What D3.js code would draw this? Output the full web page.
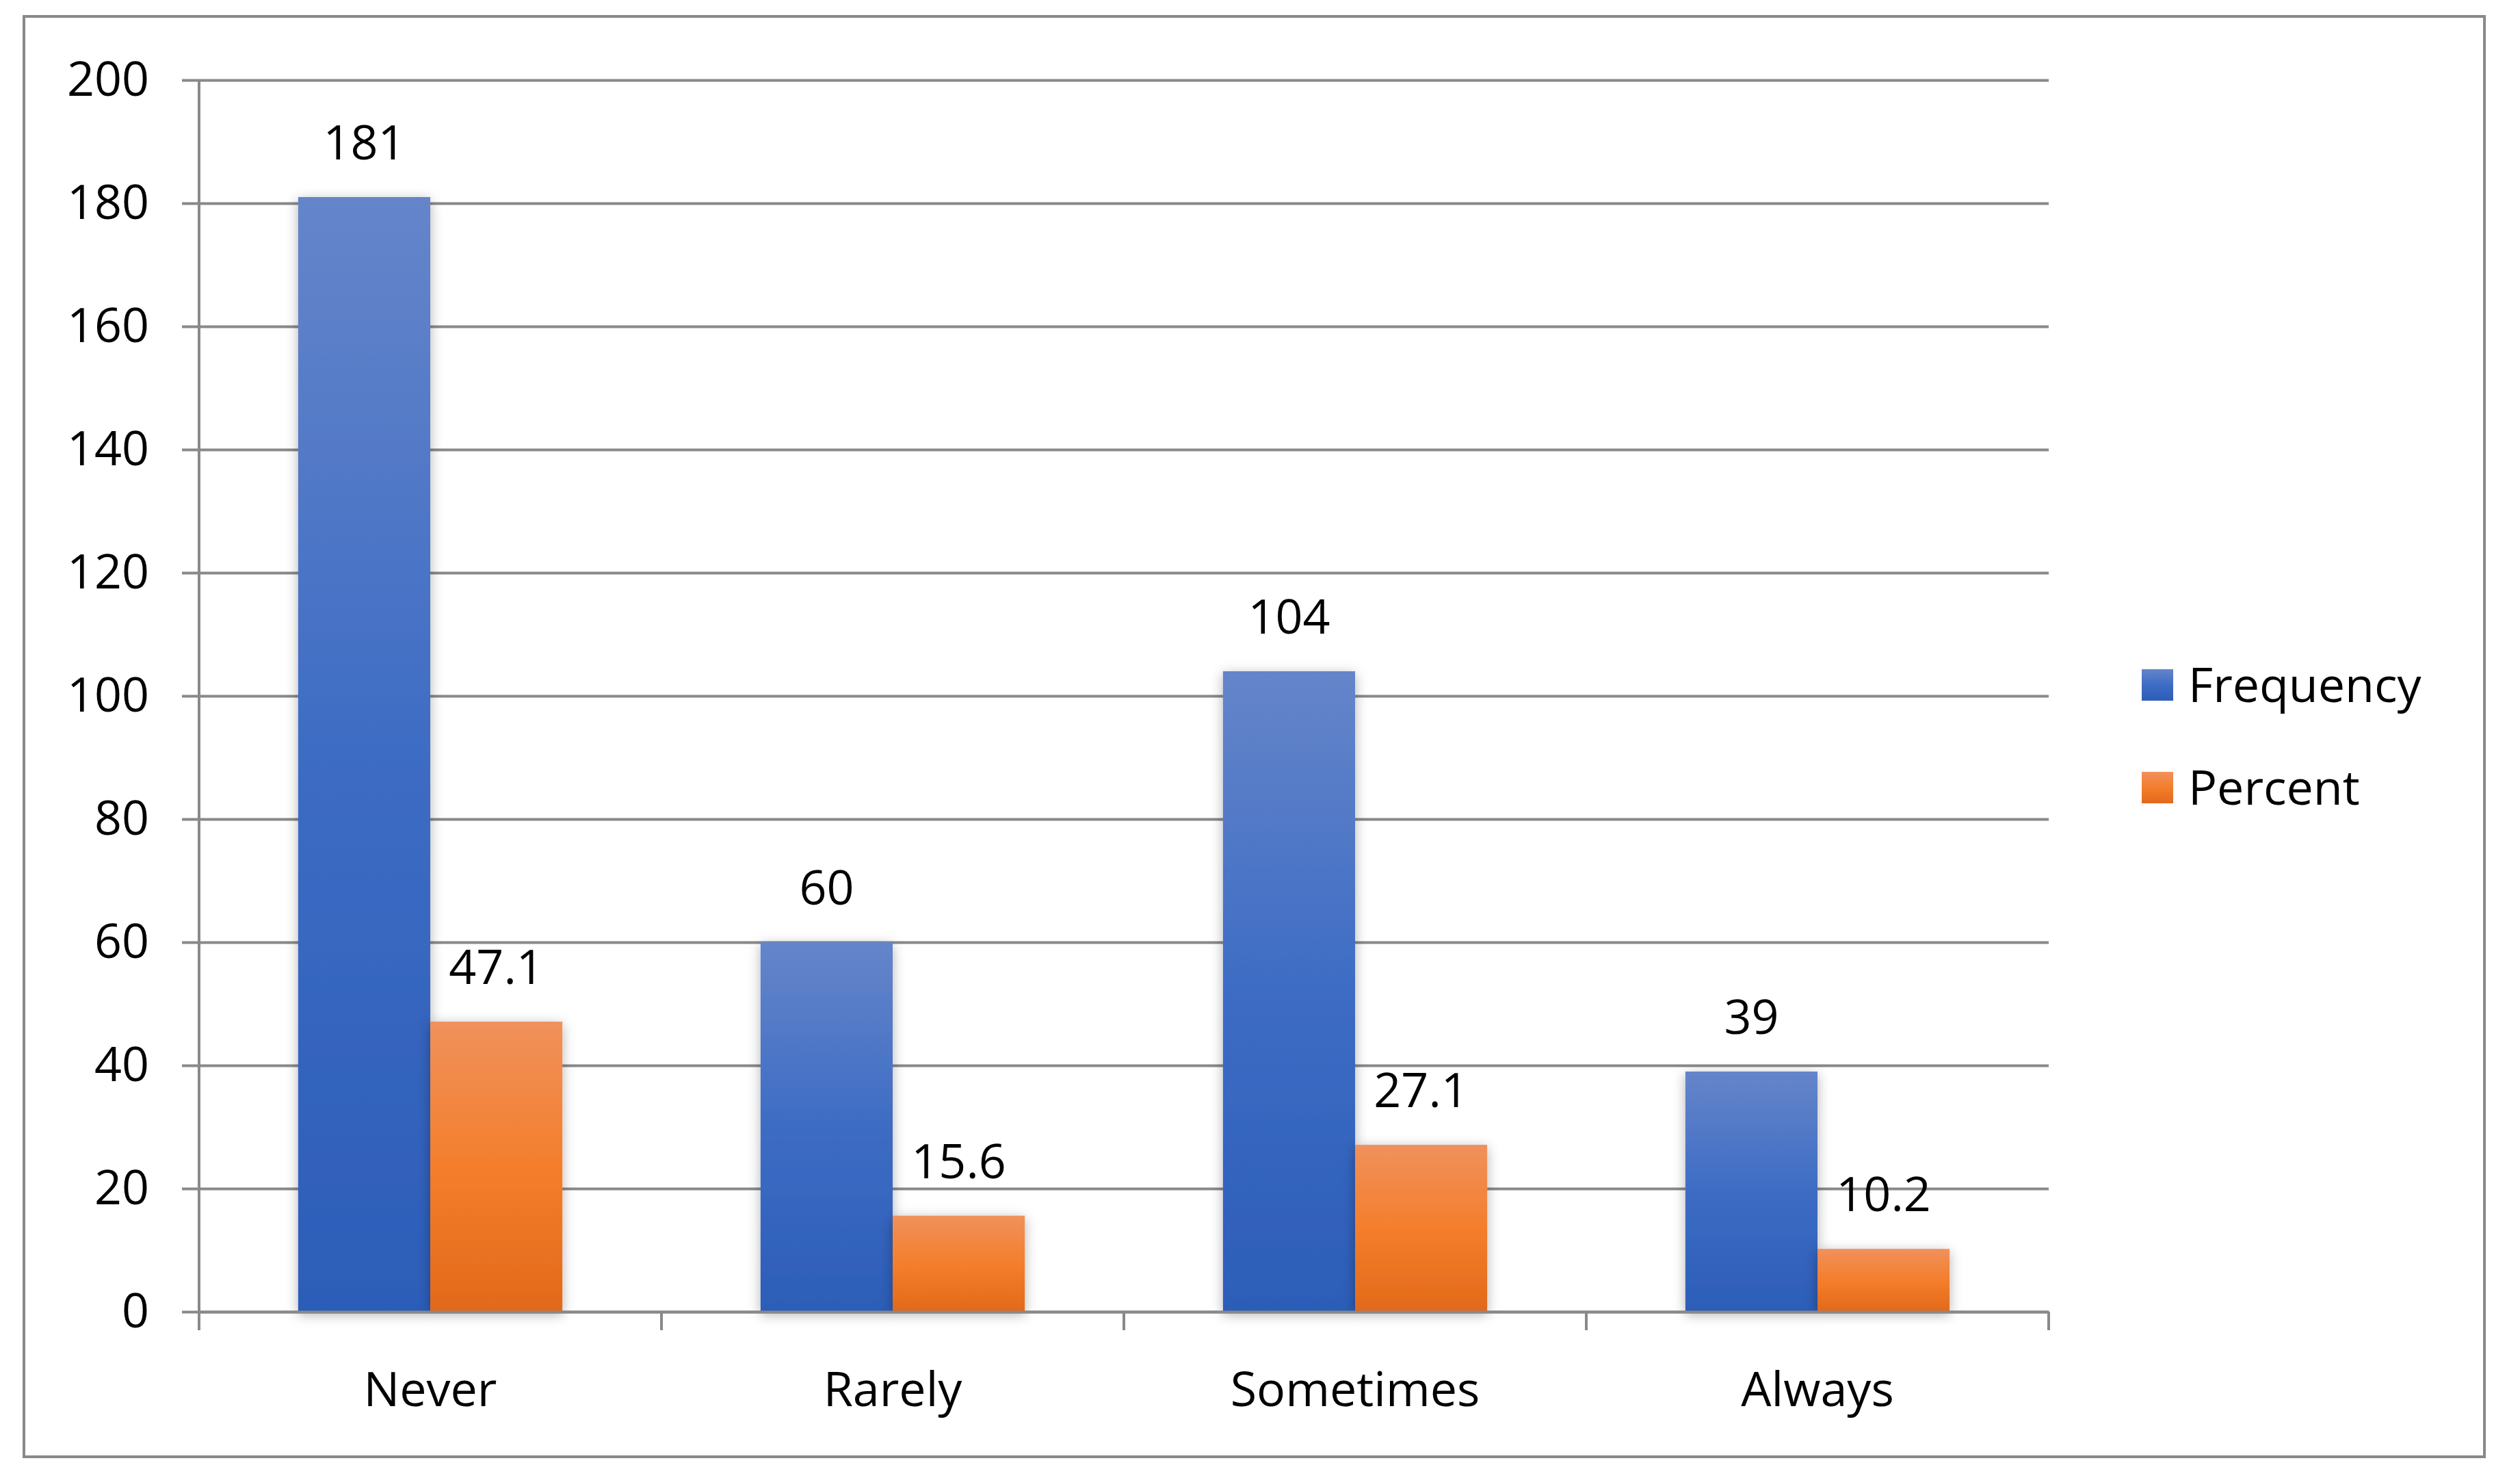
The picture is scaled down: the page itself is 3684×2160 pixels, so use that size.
<!DOCTYPE html>
<html>
<head>
<meta charset="utf-8">
<script src="https://cdn.jsdelivr.net/npm/d3@7"></script>
<style>
  body { margin: 0; background: #fff; }
  text { font-family: "Open Sans", sans-serif; fill: #000; }
</style>
</head>
<body>
<div id="wrapper"></div>
<script>
const categories = ["Never", "Rarely", "Sometimes", "Always"]
const seriesNames = ["Frequency", "Percent"]
const frequency = [181, 60, 104, 39]
const percent = [47.1, 15.6, 27.1, 10.2]
const yTicks = [0, 20, 40, 60, 80, 100, 120, 140, 160, 180, 200]

function drawBarChart() {
  const dataset = categories.map((c, i) => ({
    category: c,
    values: [frequency[i], percent[i]],
  }))

  // 1. Chart dimensions
  let dimensions = {
    width: 3684,
    height: 2160,
    margin: { top: 117, right: 689, bottom: 243, left: 291 },
  }
  dimensions.boundedWidth = dimensions.width
    - dimensions.margin.left
    - dimensions.margin.right
  dimensions.boundedHeight = dimensions.height
    - dimensions.margin.top
    - dimensions.margin.bottom

  // 2. Canvas
  const wrapper = d3.select("#wrapper")
    .append("svg")
      .attr("width", dimensions.width)
      .attr("height", dimensions.height)

  const defs = wrapper.append("defs")
  const gradients = [
    ["grad-0", ["#6585ca", "#3d6cc4", "#2c5db8"]],
    ["grad-1", ["#f0915c", "#f47e2c", "#e2691a"]],
  ]
  gradients.forEach(([id, stops]) => {
    const g = defs.append("linearGradient")
      .attr("id", id)
      .attr("x1", 0).attr("y1", 0).attr("x2", 0).attr("y2", 1)
    stops.forEach((s, i) => g.append("stop")
      .attr("offset", `${i * 50}%`)
      .attr("stop-color", s))
  })
  defs.append("filter")
      .attr("id", "shadow")
      .attr("x", "-20%").attr("y", "-20%")
      .attr("width", "140%").attr("height", "140%")
    .append("feDropShadow")
      .attr("dx", 0).attr("dy", 4)
      .attr("stdDeviation", 9)
      .attr("flood-color", "#000")
      .attr("flood-opacity", 0.3)

  // outer chart border
  wrapper.append("rect")
      .attr("x", 35).attr("y", 24)
      .attr("width", 3597).attr("height", 2105)
      .attr("fill", "none")
      .attr("stroke", "#898989")
      .attr("stroke-width", 4)

  const bounds = wrapper.append("g")
      .attr("transform", `translate(${dimensions.margin.left}, ${dimensions.margin.top})`)

  // 3. Scales
  const yScale = d3.scaleLinear()
    .domain([0, 200])
    .range([dimensions.boundedHeight, 0])

  const xScale = d3.scaleBand()
    .domain(categories)
    .range([0, dimensions.boundedWidth])

  const bw = xScale.bandwidth() / 3.5
  const subScale = d3.scaleBand()
    .domain([0, 1])
    .range([xScale.bandwidth() / 2 - bw, xScale.bandwidth() / 2 + bw])

  // 4. Gridlines + y axis
  const yAxisGenerator = d3.axisLeft(yScale)
    .tickValues(yTicks)
    .tickSize(-dimensions.boundedWidth - 25)
    .tickPadding(48)

  const yAxis = bounds.append("g")
      .attr("transform", "translate(-25, 0)")
    .call(yAxisGenerator)
  yAxis.select(".domain").remove()
  yAxis.selectAll("line")
      .attr("stroke", "#898989")
      .attr("stroke-width", 4)
  yAxis.selectAll("text")
      .attr("font-size", 70)
      .attr("fill", "#000")

  bounds.append("line")
      .attr("x1", 0).attr("x2", 0)
      .attr("y1", 0).attr("y2", dimensions.boundedHeight + 27)
      .attr("stroke", "#898989")
      .attr("stroke-width", 4)

  // 5. Bars
  const groups = bounds.selectAll(".cat")
    .data(dataset)
    .join("g")
      .attr("class", "cat")
      .attr("transform", d => `translate(${xScale(d.category)}, 0)`)

  groups.selectAll("rect")
    .data(d => d.values)
    .join("rect")
      .attr("x", (d, i) => subScale(i))
      .attr("width", subScale.bandwidth())
      .attr("y", d => yScale(d))
      .attr("height", d => dimensions.boundedHeight - yScale(d))
      .attr("fill", (d, i) => `url(#grad-${i})`)
      .attr("filter", "url(#shadow)")

  groups.selectAll(".label")
    .data(d => d.values)
    .join("text")
      .attr("class", "label")
      .attr("x", (d, i) => subScale(i) + subScale.bandwidth() / 2)
      .attr("y", d => yScale(d) - 55)
      .attr("text-anchor", "middle")
      .attr("font-size", 70)
      .text(d => d)

  // 6. X axis
  const xAxisGenerator = d3.axisBottom(xScale)
    .tickSize(0)
    .tickPadding(88)

  const xAxis = bounds.append("g")
      .attr("transform", `translate(0, ${dimensions.boundedHeight})`)
    .call(xAxisGenerator)
  xAxis.select(".domain")
      .attr("stroke", "#898989")
      .attr("stroke-width", 4)
  xAxis.selectAll("text")
      .attr("font-size", 70)
      .attr("fill", "#000")

  xAxis.selectAll(".bound")
    .data(d3.range(categories.length + 1))
    .join("line")
      .attr("class", "bound")
      .attr("x1", i => i * xScale.step())
      .attr("x2", i => i * xScale.step())
      .attr("y1", 0).attr("y2", 27)
      .attr("stroke", "#898989")
      .attr("stroke-width", 4)

  // 7. Legend
  const legend = wrapper.append("g")
      .attr("transform", "translate(3131, 1001)")
  const items = legend.selectAll("g")
    .data(seriesNames)
    .join("g")
      .attr("transform", (d, i) => `translate(0, ${i * 150})`)
  items.append("rect")
      .attr("x", 0).attr("y", -23)
      .attr("width", 46).attr("height", 46)
      .attr("fill", (d, i) => `url(#grad-${i})`)
  items.append("text")
      .attr("x", 68)
      .attr("y", 25)
      .attr("font-size", 70)
      .text(d => d)
}

drawBarChart()
</script>
</body>
</html>
